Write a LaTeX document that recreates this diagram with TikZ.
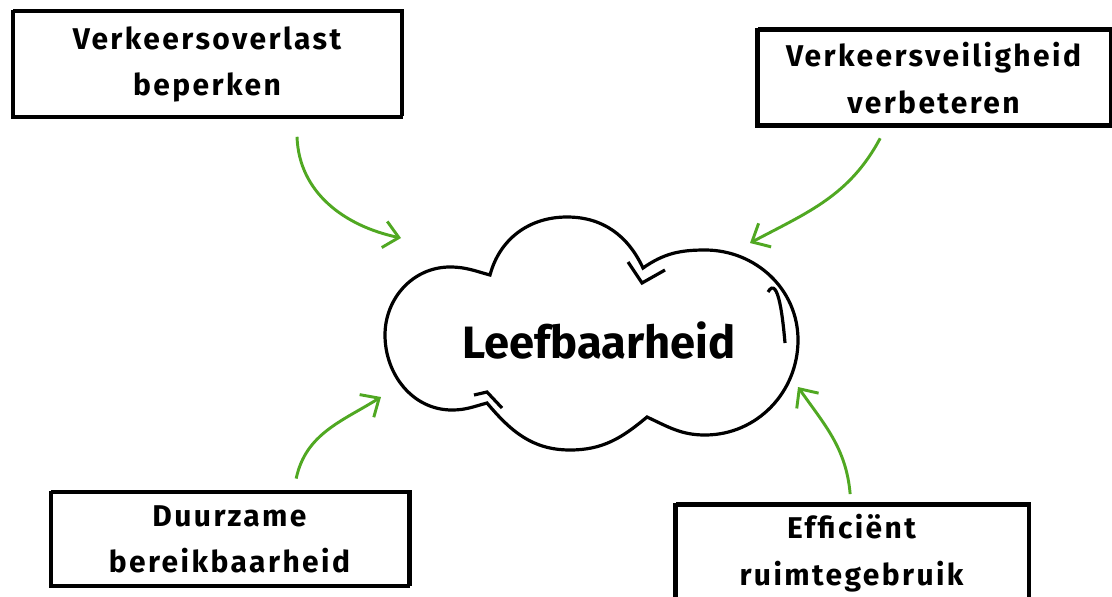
\documentclass[tikz,border=0pt]{standalone}
\usepackage{fontspec}
\setmainfont{Fira Sans}
\newfontfamily\doelfont{Fira Sans}[LetterSpace = 8]
\usetikzlibrary{arrows.meta}
\definecolor{pijlgroen}{RGB}{80,168,34}

\tikzset{
  doelbox/.style = {draw, line width = 2.4pt, align = center, inner sep = 0pt,
    font = \doelfont\fontsize{22.5}{35}\selectfont\bfseries,
    preaction = {draw, line width = 1.2pt, transform canvas = {shift = {(1.4pt, 1.3pt)}}}},
  pijl/.style = {pijlgroen, line width = 2.2pt, -{Straight Barb[length = 11pt, width = 20pt, line width = 2.2pt]}},
  wolk/.style = {line width = 2.4pt}
}

\begin{document}
\begin{tikzpicture}[x = 0.75pt, y = -0.75pt]

\useasboundingbox (0, 0) rectangle (1112, 596);

% de vier doelen
\node [doelbox, minimum width = 292pt, minimum height = 79pt] (overlast) at (207, 64.5)
  {Verkeersoverlast\\beperken};
\node [doelbox, minimum width = 265pt, minimum height = 72pt] (veiligheid) at (933.5, 78)
  {Verkeersveiligheid\\verbeteren};
\node [doelbox, minimum width = 269pt, minimum height = 71pt] (bereik) at (229.5, 539.5)
  {Duurzame\\bereikbaarheid};
\node [doelbox, minimum width = 265pt, minimum height = 72pt] (ruimte) at (851.5, 553)
  {Efficiënt\\ruimtegebruik};

% wolk
\draw [wolk] (490, 275) to[out = 75, in = 180] (567, 217) to[out = 0, in = 115] (643, 268)
  to[out = 35, in = 180] (705, 250) to[out = 0, in = 90] (798, 340)
  to[out = -90, in = 0] (705, 435) to[out = 180, in = -25] (647, 417)
  to[out = -140, in = 0] (570, 450) to[out = 180, in = -50] (487, 403)
  to[out = -165, in = 0] (452, 410) to[out = 180, in = -90] (385, 335)
  to[out = 90, in = 180] (450, 267) to[out = 0, in = 165] cycle;
\draw [wolk] (628, 262) -- (642, 283) -- (665, 270);
\draw [wolk] (768, 292) to[out = 60, in = 95] (785, 343);
\draw [wolk] (474, 395) -- (487, 392) -- (502, 408);
\node [font = \fontsize{34}{38}\selectfont\bfseries] (leef) at (599, 340) {Leefbaarheid};

% pijlen naar de wolk
\coordinate (p1) at (401, 238);
\coordinate (p2) at (750, 243);
\coordinate (p3) at (381, 397);
\coordinate (p4) at (798, 387);
\draw [pijl] ([xshift = 67.5pt, yshift = -13.5pt]overlast.south) to[out = -88, in = 168] (p1);
\draw [pijl] ([xshift = -40pt, yshift = -8pt]veiligheid.south) to[out = -118, in = 28] (p2);
\draw [pijl] ([xshift = 50pt, yshift = 9pt]bereik.north) to[out = 78, in = -148] (p3);
\draw [pijl] ([xshift = -1pt, yshift = 7pt]ruimte.north) to[out = 95, in = -55] (p4);

\end{tikzpicture}
\end{document}
